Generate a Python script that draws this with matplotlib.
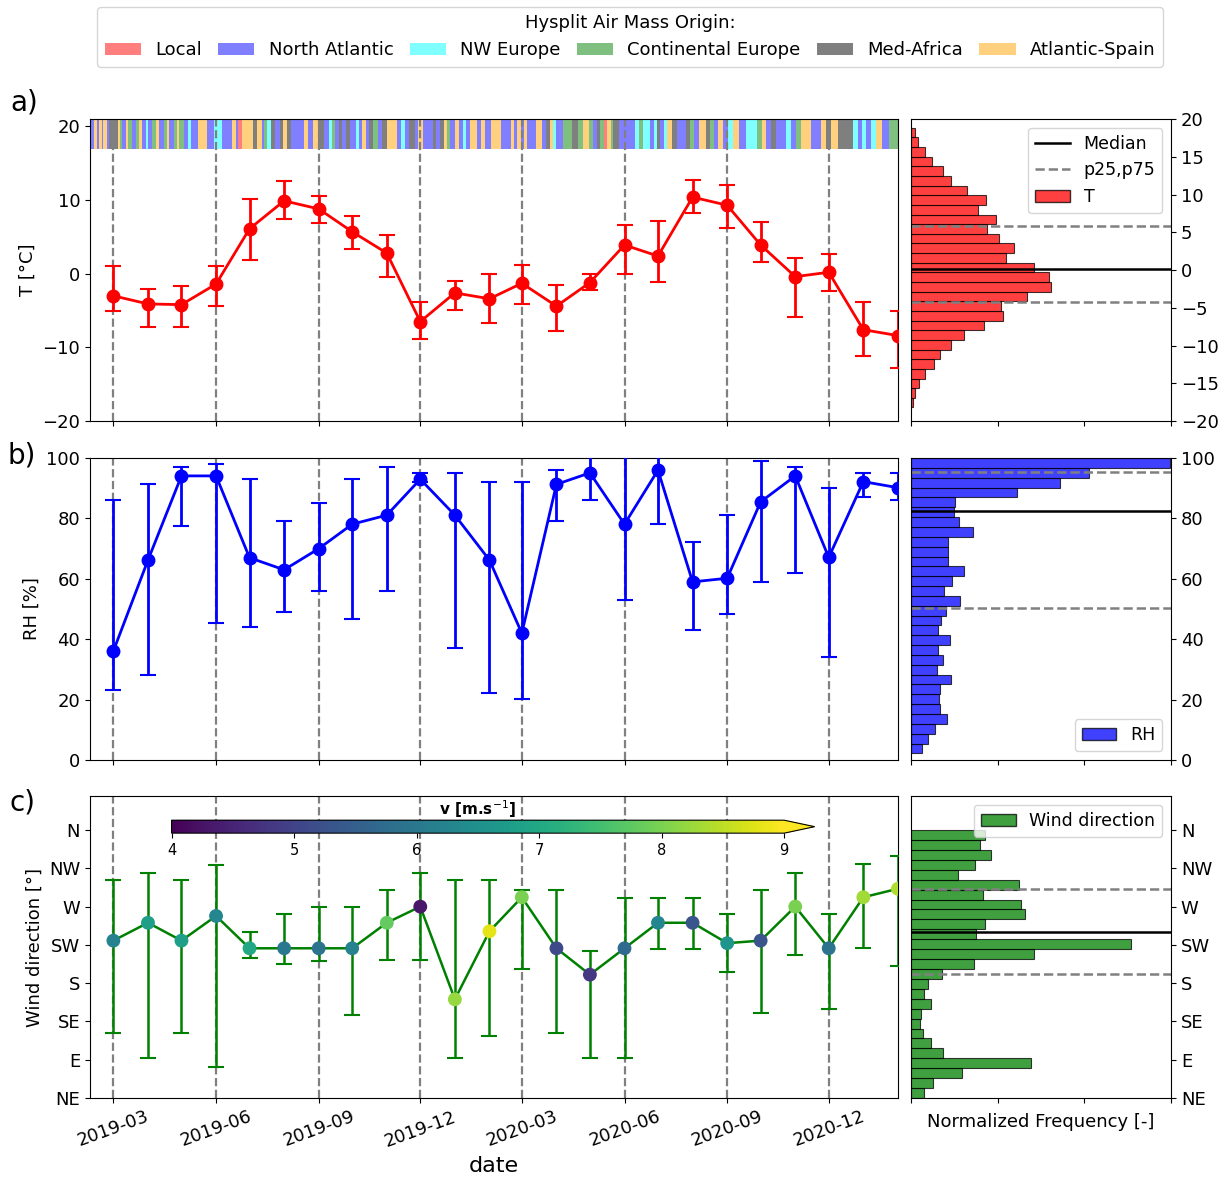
import numpy as np
import pandas as pd
import matplotlib
matplotlib.use("Agg")
import matplotlib.pyplot as plt
import matplotlib.dates as mdates
from matplotlib.colors import to_rgba
from matplotlib.patches import Patch
from matplotlib.lines import Line2D

# monthly statistics (median, p25, p75)
months = pd.date_range("2019-03-01", periods=24, freq="MS")

temp_med = [-3.0, -4.1, -4.2, -1.4, 6.1, 9.9, 8.8, 5.7, 2.8, -6.5, -2.6, -3.4,
            -1.3, -4.4, -1.2, 3.9, 2.4, 10.4, 9.3, 3.9, -0.4, 0.2, -7.6, -8.4]
temp_p75 = [1.1, -2.1, -1.6, 1.0, 10.2, 12.6, 10.5, 7.9, 5.3, -3.9, -1.0, 0.0,
            1.2, -1.5, 0.0, 6.6, 7.2, 12.7, 12.0, 7.0, 2.1, 2.7, -3.8, -5.0]
temp_p25 = [-5.0, -7.2, -7.2, -4.4, 1.9, 7.4, 6.9, 3.4, -0.5, -8.8, -4.9, -6.7,
            -4.1, -7.8, -2.2, -0.1, -1.1, 8.3, 6.2, 1.6, -5.9, -2.4, -11.2, -12.8]

rh_med = [36.1, 66.2, 94.1, 94.1, 67.0, 63.0, 70.0, 78.1, 81.1, 93.0, 81.1, 66.2,
          42.0, 91.3, 95.1, 78.1, 96.0, 59.0, 60.2, 85.5, 94.1, 67.1, 92.2, 90.2]
rh_p75 = [86.1, 91.3, 97.1, 98.2, 93.1, 79.1, 85.2, 93.1, 97.1, 95.1, 95.1, 92.1,
          92.2, 96.0, 103.0, 103.0, 103.0, 72.1, 81.1, 99.1, 97.1, 90.2, 95.1, 95.1]
rh_p25 = [23.2, 28.1, 77.6, 45.5, 44.1, 49.1, 56.1, 46.8, 56.1, 92.0, 37.1, 22.1,
          20.1, 79.1, 86.1, 52.9, 78.1, 43.0, 48.2, 59.0, 62.1, 34.1, 87.2, 86.1]

wd_med = [230, 251, 230, 259, 221, 221, 221, 221, 251, 270, 161, 241,
          281, 221, 190, 221, 251, 251, 227, 230, 270, 221, 281, 291]
wd_p75 = [301, 310, 301, 319, 240, 261, 269, 269, 289, 310, 301, 301,
          290, 290, 218, 280, 280, 280, 261, 290, 310, 261, 320, 330]
wd_p25 = [121, 92, 121, 81, 209, 202, 206, 143, 207, 207, 92, 118,
          197, 121, 92, 92, 220, 220, 193, 145, 213, 150, 221, 200]
ws_mean = [6.2, 6.8, 6.8, 6.3, 7.0, 6.0, 5.9, 6.2, 7.8, 4.3, 8.2, 8.8,
           8.0, 5.1, 4.8, 5.7, 6.3, 5.3, 6.6, 5.3, 8.0, 5.9, 8.3, 8.4]

# normalized frequency of the full series (bottom bin first)
temp_freq = [0.2, 0.46, 0.9, 1.6, 2.7, 3.3, 4.6, 6.1, 8.4, 10.6, 10.4, 13.4, 16.2, 15.9,
             14.2, 11.0, 11.9, 10.1, 8.8, 9.8, 7.7, 8.7, 6.5, 4.65, 3.7, 2.4, 1.6, 0.85, 0.46]
rh_freq = [1.3, 1.9, 2.8, 4.2, 3.3, 3.2, 3.3, 4.6, 3.0, 3.7, 3.1, 4.5, 3.1, 3.4, 4.0,
           5.7, 3.8, 4.7, 6.1, 4.3, 4.3, 4.3, 7.2, 5.5, 4.9, 5.1, 12.2, 17.2, 20.5, 29.9]
wd_freq = [1.5, 2.5, 5.9, 13.8, 3.7, 2.3, 1.4, 1.0, 1.2, 2.3, 1.5, 2.0, 3.6, 7.3,
           14.2, 25.4, 7.5, 8.5, 13.2, 12.7, 8.3, 12.5, 5.4, 7.4, 9.2, 7.9, 8.5]
temp_edges = np.linspace(-18.2, 18.85, len(temp_freq) + 1)
rh_edges = np.linspace(2.2, 100, len(rh_freq) + 1)
wd_edges = np.linspace(45, 360, len(wd_freq) + 1)

temp_pct = [-4.2, 0.1, 5.8]
rh_pct = [50.3, 82.4, 95.3]
wd_pct = [190.7, 240.4, 290.2]

# daily HYSPLIT origin, run-length coded from 2019-02-08
# L Local, A North Atlantic, E NW Europe, C Continental Europe, M Med-Africa, S Atlantic-Spain
airmass_runs = (
    "A4 S2 A2 S3 A1 S3 A2 M8 S2 C2 A3 S2 C4 A3 C3 S3 A3 E2 A4 C3 S3 A4 C3 S2 A4 C3 S2 "
    "C4 A4 E3 A6 S8 A6 E7 A9 S4 A2 L3 S10 M4 S4 A2 C3 E3 M4 A4 M3 S4 M3 A12 S3 A5 S4 "
    "M6 A4 E3 C3 A3 M3 A3 M4 A5 E3 A3 S3 A3 M4 C4 A4 M4 S9 A4 E3 A4 M5 A3 S4 A9 M3 "
    "A4 M3 S3 C3 A4 S4 A3 E3 A4 S6 A3 S4 A5 S9 A6 "
    "A3 S3 A3 S3 A3 S3 A8 S5 A4 M3 S3 E3 A6 C8 M5 C5 S5 C4 A3 M3 C4 L2 S4 C2 M5 A4 "
    "A10 E4 C4 E6 A3 E3 M3 A3 E3 S5 M4 A8 M4 C3 A5 S6 M4 C3 A4 S4 A5 E4 S6 A6 E6 E4 "
    "C4 S4 A4 M5 A4 A5 E4 A5 C4 S9 A9 S5 M4 S6 M6 M8 E4 A4 E3 A5 E4 S6 A6 C12 A5 S5"
)
origin_names = ["Local", "North Atlantic", "NW Europe", "Continental Europe",
                "Med-Africa", "Atlantic-Spain"]
origin_codes = ["L", "A", "E", "C", "M", "S"]
origin_colors = ["red", "blue", "cyan", "green", "black", "orange"]

tick_dates = pd.date_range("2019-03-01", "2020-12-01", freq="3MS")
x_start = pd.Timestamp("2019-02-08")
x_end = pd.Timestamp("2021-02-01")


def expand_runs(runs):
    codes = []
    for item in runs.split():
        codes += [item[0]] * int(item[1:])
    return codes


def style_time_axis(ax):
    ax.set_xlim(x_start, x_end)
    ax.set_xticks(tick_dates)
    ax.xaxis.set_major_formatter(mdates.DateFormatter("%Y-%m"))
    for d in tick_dates:
        ax.axvline(d, color="grey", linestyle="--", linewidth=1.6, zorder=2)
    ax.tick_params(labelsize=13)


def draw_hist(ax, edges, freq, color, pct):
    ax.barh(edges[:-1], freq, height=np.diff(edges), align="edge", color=color,
            alpha=0.75, edgecolor="black", linewidth=0.8)
    ax.axhline(pct[1], color="black", linewidth=1.8)
    ax.axhline(pct[0], color="grey", linestyle="--", linewidth=1.8)
    ax.axhline(pct[2], color="grey", linestyle="--", linewidth=1.8)
    ax.set_xlim(0, 30)
    ax.set_xticks([0, 10, 20, 30])
    ax.set_xticklabels([])
    ax.yaxis.tick_right()
    ax.tick_params(labelsize=13)


fig = plt.figure(figsize=(12.27, 11.80), dpi=100)

main_l, main_w = 0.0733, 0.6585
hist_l, hist_w = 0.7425, 0.2119
rows = [0.6432, 0.3559, 0.0695]
row_h = 0.2559

ax_t = fig.add_axes([main_l, rows[0], main_w, row_h])
ax_rh = fig.add_axes([main_l, rows[1], main_w, row_h])
ax_wd = fig.add_axes([main_l, rows[2], main_w, row_h])
hx_t = fig.add_axes([hist_l, rows[0], hist_w, row_h])
hx_rh = fig.add_axes([hist_l, rows[1], hist_w, row_h])
hx_wd = fig.add_axes([hist_l, rows[2], hist_w, row_h])

# ==========================
# a) temperature + air mass strip
# ==========================
codes = expand_runs(airmass_runs)
days = mdates.date2num(x_start) + np.arange(len(codes))
code_color = {c: to_rgba(col, 0.5) for c, col in zip(origin_codes, origin_colors)}
ax_t.bar(days, 4, bottom=17, width=1.0, align="edge",
         color=[code_color[c] for c in codes], linewidth=0, zorder=1)

t_med = np.array(temp_med)
ax_t.errorbar(months, t_med, yerr=[t_med - np.array(temp_p25), np.array(temp_p75) - t_med],
              color="red", marker="o", markersize=9, linewidth=2, elinewidth=2,
              capsize=6, capthick=1.5, zorder=3)
ax_t.set_ylim(-20, 21)
ax_t.set_yticks([-20, -10, 0, 10, 20])
ax_t.set_ylabel("T [°C]", fontsize=13)
style_time_axis(ax_t)
ax_t.set_xticklabels([])

draw_hist(hx_t, temp_edges, temp_freq, "red", temp_pct)
hx_t.set_ylim(-20, 20)
hx_t.set_yticks(np.arange(-20, 21, 5))
hx_t.legend(handles=[Line2D([], [], color="black", linewidth=1.8),
                     Line2D([], [], color="grey", linestyle="--", linewidth=1.8),
                     Patch(facecolor="red", alpha=0.75, edgecolor="black")],
            labels=["Median", "p25,p75", "T"], loc="upper right", fontsize=12.5)

# ==========================
# b) relative humidity
# ==========================
r_med = np.array(rh_med)
ax_rh.errorbar(months, r_med, yerr=[r_med - np.array(rh_p25), np.array(rh_p75) - r_med],
               color="blue", marker="o", markersize=9, linewidth=2, elinewidth=2,
               capsize=6, capthick=1.5, zorder=3)
ax_rh.set_ylim(0, 100)
ax_rh.set_ylabel("RH [%]", fontsize=13)
style_time_axis(ax_rh)
ax_rh.set_xticklabels([])

draw_hist(hx_rh, rh_edges, rh_freq, "blue", rh_pct)
hx_rh.set_ylim(0, 100)
hx_rh.legend(handles=[Patch(facecolor="blue", alpha=0.75, edgecolor="black")],
             labels=["RH"], loc="lower right", fontsize=12.5)

# ==========================
# c) wind direction coloured by speed
# ==========================
w_med = np.array(wd_med)
ax_wd.errorbar(months, w_med, yerr=[w_med - np.array(wd_p25), np.array(wd_p75) - w_med],
               color="green", linewidth=1.8, elinewidth=1.8, capsize=6, capthick=1.5,
               zorder=3)
sc = ax_wd.scatter(months, w_med, c=ws_mean, cmap="viridis", vmin=4, vmax=9,
                   s=80, zorder=4)
dir_ticks = [45, 90, 135, 180, 225, 270, 315, 360]
dir_labels = ["NE", "E", "SE", "S", "SW", "W", "NW", "N"]
ax_wd.set_ylim(45, 400)
ax_wd.set_yticks(dir_ticks)
ax_wd.set_yticklabels(dir_labels)
ax_wd.set_ylabel("Wind direction [°]", fontsize=13)
style_time_axis(ax_wd)
plt.setp(ax_wd.get_xticklabels(), rotation=20, ha="center")
ax_wd.set_xlabel("date", fontsize=16)

cax = ax_wd.inset_axes([0.101, 0.877, 0.796, 0.043])
cbar = fig.colorbar(sc, cax=cax, orientation="horizontal", extend="max")
cbar.set_ticks([4, 5, 6, 7, 8, 9])
cbar.ax.tick_params(labelsize=10.5)
cax.set_title("v [m.s$^{-1}$]", fontsize=11, fontweight="bold", pad=2)

draw_hist(hx_wd, wd_edges, wd_freq, "green", wd_pct)
hx_wd.set_ylim(45, 400)
hx_wd.set_yticks(dir_ticks)
hx_wd.set_yticklabels(dir_labels)
hx_wd.set_xlabel("Normalized Frequency [-]", fontsize=13)
hx_wd.legend(handles=[Patch(facecolor="green", alpha=0.75, edgecolor="black")],
             labels=["Wind direction"], loc="upper right", fontsize=12.5)

# panel letters
fig.text(0.020, 0.913, "a)", fontsize=20, ha="center", va="center")
fig.text(0.018, 0.614, "b)", fontsize=20, ha="center", va="center")
fig.text(0.018, 0.320, "c)", fontsize=20, ha="center", va="center")

# air mass legend
handles = [Patch(facecolor=c, alpha=0.5) for c in origin_colors]
fig.legend(handles, origin_names, loc="upper center", bbox_to_anchor=(0.5135, 0.994),
           ncol=6, fontsize=13, title="Hysplit Air Mass Origin:", title_fontsize=13,
           columnspacing=0.9, handletextpad=0.8, borderaxespad=0)

fig.savefig("out.png", dpi=100)
